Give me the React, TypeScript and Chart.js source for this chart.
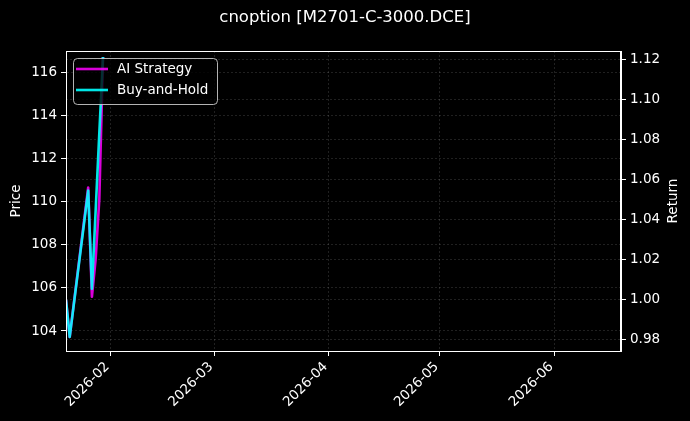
import { useEffect, useRef } from 'react';
import { Chart, registerables } from 'chart.js';

Chart.register(...registerables);

// ---- data ----
const chartTitle = 'cnoption [M2701-C-3000.DCE]';
const dates = ['2026-01-20', '2026-01-21', '2026-01-26', '2026-01-27', '2026-01-28', '2026-01-29', '2026-01-30'];
const aiStrategy = [1.0, 0.9815, 1.056, 1.0015, 1.02, 1.05, 1.121];
const buyAndHold = [1.0, 0.9815, 1.0545, 1.0055, 1.044, 1.083, 1.121];
const monthTicks = ['2026-02-01', '2026-03-01', '2026-04-01', '2026-05-01', '2026-06-01'];
const xRange = ['2026-01-20', '2026-06-19'];
const priceTicks = [104, 106, 108, 110, 112, 114, 116];
const priceRange = [103.07, 117.02];
const returnTicks = [0.98, 1.0, 1.02, 1.04, 1.06, 1.08, 1.1, 1.12];
const returnRange = [0.9745, 1.124];
const seriesLabels = ['AI Strategy', 'Buy-and-Hold'];
const seriesColors = ['rgba(255,0,255,0.85)', 'rgba(0,255,255,0.9)'];

const FONT = "'DejaVu Sans', sans-serif";
const toDay = (s: string) => Date.parse(s + 'T00:00:00Z') / 86400000;
const fmtMonth = (v: number) => new Date(v * 86400000).toISOString().slice(0, 7);

const GRID = 'rgba(255,255,255,0.18)';

const decorPlugin = {
  id: 'decor',
  beforeDraw(chart: any) {
    const ctx = chart.ctx;
    ctx.save();
    ctx.fillStyle = '#000';
    ctx.fillRect(0, 0, chart.width, chart.height);
    ctx.restore();
  },
  afterDraw(chart: any) {
    const ctx = chart.ctx;
    const a = chart.chartArea;
    ctx.save();
    // frame
    ctx.strokeStyle = '#fff';
    ctx.lineWidth = 1;
    ctx.strokeRect(Math.round(a.left) + 0.5, Math.round(a.top) + 0.5, Math.round(a.right - a.left) - 1, Math.round(a.bottom - a.top));
    // title
    ctx.fillStyle = '#fff';
    ctx.textAlign = 'center';
    ctx.textBaseline = 'middle';
    ctx.font = `16.5px ${FONT}`;
    ctx.fillText(chartTitle, chart.width / 2, 18);
    // axis titles
    const midY = (a.top + a.bottom) / 2;
    ctx.font = `13.5px ${FONT}`;
    ctx.save();
    ctx.translate(16, midY);
    ctx.rotate(-Math.PI / 2);
    ctx.fillText('Price', 0, 0);
    ctx.restore();
    ctx.save();
    ctx.translate(673, midY);
    ctx.rotate(-Math.PI / 2);
    ctx.fillText('Return', 0, 0);
    ctx.restore();
    // legend
    const lx = a.left + 7, ly = a.top + 7, lw = 144, lh = 46;
    ctx.beginPath();
    ctx.roundRect(lx + 0.5, ly + 0.5, lw, lh, 4);
    ctx.fillStyle = 'rgba(0,0,0,0.8)';
    ctx.fill();
    ctx.strokeStyle = 'rgba(210,210,210,0.85)';
    ctx.lineWidth = 1;
    ctx.stroke();
    ctx.textAlign = 'left';
    ctx.font = `13.5px ${FONT}`;
    seriesLabels.forEach((lab, i) => {
      const y = ly + 11 + i * 21;
      ctx.strokeStyle = seriesColors[i];
      ctx.lineWidth = 2.6;
      ctx.beginPath();
      ctx.moveTo(lx + 3, y);
      ctx.lineTo(lx + 35, y);
      ctx.stroke();
      ctx.fillStyle = '#fff';
      ctx.fillText(lab, lx + 44, y);
    });
    ctx.restore();
  },
};

export default function App() {
  const ref = useRef<HTMLCanvasElement | null>(null);
  useEffect(() => {
    document.body.style.margin = '0';
    document.body.style.background = '#000';
    const canvas = ref.current;
    if (!canvas) return;
    const tickFont = { family: FONT, size: 13.5 };
    const gridOpts = { color: GRID, lineWidth: 0.7, tickColor: '#fff', tickLength: 5, tickWidth: 1 };
    const borderOpts = { color: '#fff', width: 1, dash: [2, 2] };
    const chart = new Chart(canvas, {
      type: 'line',
      data: {
        datasets: [
          {
            label: seriesLabels[0],
            data: dates.map((d, i) => ({ x: toDay(d), y: aiStrategy[i] })),
            borderColor: seriesColors[0],
            borderWidth: 2.6,
            borderJoinStyle: 'round',
            pointRadius: 0,
            tension: 0,
            yAxisID: 'yR',
            order: 1,
          },
          {
            label: seriesLabels[1],
            data: dates.map((d, i) => ({ x: toDay(d), y: buyAndHold[i] })),
            borderColor: seriesColors[1],
            borderWidth: 2.6,
            borderJoinStyle: 'round',
            pointRadius: 0,
            tension: 0,
            yAxisID: 'yR',
            order: 0,
          },
        ],
      },
      options: {
        animation: false,
        responsive: false,
        maintainAspectRatio: false,
        events: [],
        layout: { padding: { top: 51, left: 0, right: 0, bottom: 0 } },
        plugins: { legend: { display: false }, title: { display: false }, tooltip: { enabled: false } },
        scales: {
          x: {
            type: 'linear',
            min: toDay(xRange[0]),
            max: toDay(xRange[1]),
            afterBuildTicks: (s: any) => {
              s.ticks = monthTicks.map((m) => ({ value: toDay(m) }));
            },
            afterFit: (s: any) => {
              s.height = 70;
            },
            ticks: {
              autoSkip: false,
              minRotation: 45,
              maxRotation: 45,
              color: '#fff',
              font: tickFont,
              padding: 3,
              labelOffset: -3,
              callback: (v: any) => fmtMonth(Number(v)),
            },
            grid: gridOpts,
            border: borderOpts,
          },
          yP: {
            type: 'linear',
            position: 'left',
            min: priceRange[0],
            max: priceRange[1],
            afterBuildTicks: (s: any) => {
              s.ticks = priceTicks.map((v) => ({ value: v }));
            },
            afterFit: (s: any) => {
              s.width = 66;
            },
            ticks: { color: '#fff', font: tickFont, padding: 4, callback: (v: any) => String(v) },
            grid: gridOpts,
            border: borderOpts,
          },
          yR: {
            type: 'linear',
            position: 'right',
            min: returnRange[0],
            max: returnRange[1],
            afterBuildTicks: (s: any) => {
              s.ticks = returnTicks.map((v) => ({ value: v }));
            },
            afterFit: (s: any) => {
              s.width = 69;
            },
            ticks: { color: '#fff', font: tickFont, padding: 4, callback: (v: any) => Number(v).toFixed(2) },
            grid: gridOpts,
            border: borderOpts,
          },
        },
      },
      plugins: [decorPlugin],
    } as any);
    return () => chart.destroy();
  }, []);
  return (
    <div style={{ width: 690, height: 421, background: '#000' }}>
      <canvas ref={ref} width={690} height={421} style={{ width: 690, height: 421, display: 'block' }} />
    </div>
  );
}
